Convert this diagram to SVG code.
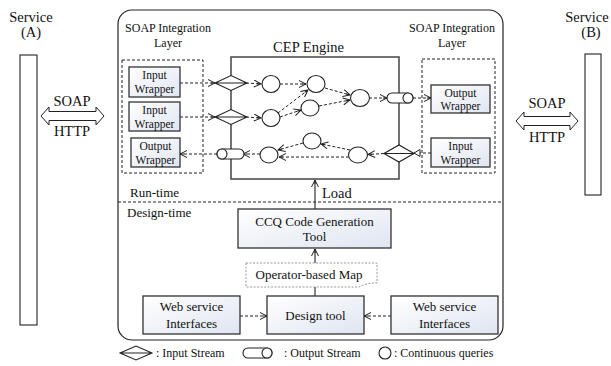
<svg xmlns="http://www.w3.org/2000/svg" width="611" height="366" viewBox="0 0 611 366" font-family="'Liberation Serif','Times New Roman',serif">
<defs>
<linearGradient id="bg" x1="0" y1="0" x2="1" y2="1">
<stop offset="0" stop-color="#ffffff"/>
<stop offset="1" stop-color="#dfe5f1"/>
</linearGradient>
<marker id="ah" markerWidth="10" markerHeight="10" refX="8" refY="4" orient="auto" markerUnits="userSpaceOnUse">
<path d="M1,0.5 L8,4 L1,7.5 M8,4 L4,4" fill="none" stroke="#222" stroke-width="1"/>
</marker>
<marker id="tri" markerWidth="10" markerHeight="10" refX="7" refY="4" orient="auto" markerUnits="userSpaceOnUse">
<path d="M1,0.5 L7,4 L1,7.5 Z" fill="#fff" stroke="#222" stroke-width="1"/>
</marker>
<style>
text{font-family:"Liberation Serif","Times New Roman","DejaVu Serif",serif;fill:#111}
.t11{font-size:11.5px}
.t12{font-size:12px}
.t13{font-size:13px}
.t14{font-size:14.5px}
.box{fill:url(#bg);stroke:#333;stroke-width:1.3}
.dbox{fill:none;stroke:#222;stroke-width:1;stroke-dasharray:3,2}
.cq{fill:#fff;stroke:#222;stroke-width:1.1}
.dash{fill:none;stroke:#222;stroke-width:1;stroke-dasharray:3,2;marker-end:url(#ah)}
.solid{fill:none;stroke:#222;stroke-width:1.1}
</style>
</defs>

<g id="service-a">
<text class="t14" x="31" y="22" text-anchor="middle">Service</text>
<text class="t14" x="31" y="37" text-anchor="middle">(A)</text>
<rect x="20" y="55" width="17" height="270" fill="#fff" stroke="#222" stroke-width="1.1"/>
</g>
<g id="service-b">
<text class="t14" x="587" y="22" text-anchor="middle">Service</text>
<text class="t14" x="591" y="37" text-anchor="middle">(B)</text>
<rect x="585" y="54" width="16" height="141" fill="#fff" stroke="#222" stroke-width="1.1"/>
</g>

<g id="soap-a">
<path d="M41,116 L49,107 L49,111.5 L96,111.5 L96,107 L104,116 L96,125 L96,120.5 L49,120.5 L49,125 Z" fill="#fff" stroke="#222" stroke-width="1"/>
<text class="t14" x="72" y="106" text-anchor="middle">SOAP</text>
<text class="t14" x="72" y="136" text-anchor="middle">HTTP</text>
</g>
<g id="soap-b">
<path d="M516,121 L524,112 L524,116.5 L570,116.5 L570,112 L578,121 L570,130 L570,125.5 L524,125.5 L524,130 Z" fill="#fff" stroke="#222" stroke-width="1"/>
<text class="t14" x="547" y="108" text-anchor="middle">SOAP</text>
<text class="t14" x="547" y="142" text-anchor="middle">HTTP</text>
</g>

<g id="platform">
<rect x="118" y="10" width="385" height="330" rx="14" fill="none" stroke="#222" stroke-width="1.2"/>
<line x1="118" y1="202" x2="503" y2="202" stroke="#222" stroke-width="1" stroke-dasharray="3,2"/>
<text class="t13" x="130" y="197">Run-time</text>
<text class="t13" x="127" y="217">Design-time</text>
</g>

<g id="soap-layer-left">
<text class="t12" x="168" y="32" text-anchor="middle">SOAP Integration</text>
<text class="t12" x="168" y="47" text-anchor="middle">Layer</text>
<rect class="dbox" x="122" y="60" width="81" height="113"/>
</g>
<g id="soap-layer-right">
<text class="t12" x="452" y="32" text-anchor="middle">SOAP Integration</text>
<text class="t12" x="452" y="47" text-anchor="middle">Layer</text>
<rect class="dbox" x="422" y="59" width="73" height="114"/>
</g>

<g id="input-wrapper-1">
<rect class="box" x="129" y="67" width="51" height="30"/>
<text class="t11" x="154.5" y="79" text-anchor="middle">Input</text>
<text class="t11" x="154.5" y="93" text-anchor="middle">Wrapper</text>
</g>
<g id="input-wrapper-2">
<rect class="box" x="129" y="102" width="51" height="29"/>
<text class="t11" x="154.5" y="114" text-anchor="middle">Input</text>
<text class="t11" x="154.5" y="128" text-anchor="middle">Wrapper</text>
</g>
<g id="output-wrapper-left">
<rect class="box" x="131" y="138" width="49" height="29"/>
<text class="t11" x="155.5" y="150" text-anchor="middle">Output</text>
<text class="t11" x="155.5" y="164" text-anchor="middle">Wrapper</text>
</g>
<g id="output-wrapper-right">
<rect class="box" x="431" y="85" width="59" height="28"/>
<text class="t11" x="460.5" y="97" text-anchor="middle">Output</text>
<text class="t11" x="460.5" y="110" text-anchor="middle">Wrapper</text>
</g>
<g id="input-wrapper-right">
<rect class="box" x="431" y="138" width="59" height="29"/>
<text class="t11" x="460.5" y="150" text-anchor="middle">Input</text>
<text class="t11" x="460.5" y="164" text-anchor="middle">Wrapper</text>
</g>

<g id="cep-engine">
<text class="t14" x="308.5" y="52" text-anchor="middle">CEP Engine</text>
<rect x="231" y="57" width="168" height="122" fill="none" stroke="#444" stroke-width="1.5"/>
</g>

<g id="connectors">
<line class="dash" x1="180" y1="83" x2="215" y2="83"/>
<line class="dash" x1="180" y1="117" x2="215" y2="117"/>
<line class="dash" x1="246" y1="83" x2="261" y2="84"/>
<line class="dash" x1="246" y1="117" x2="261" y2="118"/>
<line class="dash" x1="280" y1="84" x2="306" y2="84"/>
<line class="dash" x1="278" y1="113" x2="308" y2="90"/>
<line class="dash" x1="280" y1="117" x2="301" y2="110"/>
<line class="dash" x1="325" y1="88" x2="350" y2="95"/>
<line class="dash" x1="319" y1="106" x2="350" y2="100"/>
<line class="dash" x1="369" y1="98" x2="387" y2="98"/>
<line class="dash" x1="413" y1="98" x2="431" y2="98"/>
<line x1="431" y1="153" x2="414" y2="153" fill="none" stroke="#222" stroke-width="1" stroke-dasharray="3,2" marker-end="url(#tri)"/>
<line class="dash" x1="384" y1="153.5" x2="368" y2="154.5"/>
<line class="dash" x1="350" y1="150" x2="321" y2="144"/>
<line class="dash" x1="349" y1="157" x2="279" y2="157"/>
<line class="dash" x1="303" y1="143" x2="278" y2="150"/>
<line class="dash" x1="260" y1="154" x2="243" y2="154"/>
<line class="dash" x1="217" y1="154" x2="180" y2="154"/>
<line class="solid" x1="315" y1="209" x2="315" y2="180" marker-end="url(#ah)"/>
<line class="solid" x1="315" y1="263" x2="315" y2="249" marker-end="url(#ah)"/>
<line class="solid" x1="315" y1="296" x2="315" y2="287"/>
<line class="dash" x1="240" y1="316" x2="267" y2="316"/>
<line class="dash" x1="391" y1="316" x2="364" y2="316"/>
</g>

<g id="input-stream-1">
<path d="M215,83 L231,75.5 L247,83 L231,90.5 Z M215,83 L247,83" fill="#fff" stroke="#222" stroke-width="1.1"/>
</g>
<g id="input-stream-2">
<path d="M215,117 L231,109.5 L247,117 L231,124.5 Z M215,117 L247,117" fill="#fff" stroke="#222" stroke-width="1.1"/>
</g>
<g id="input-stream-3">
<path d="M384,153.5 L399,145 L414,153.5 L399,162 Z M384,153.5 L414,153.5" fill="#fff" stroke="#222" stroke-width="1.1"/>
</g>
<g id="output-stream-1">
<rect x="217" y="149" width="27" height="10" rx="5" fill="#fff" stroke="#222" stroke-width="1.1"/>
<ellipse cx="222" cy="154" rx="5" ry="5" fill="#fff" stroke="#222" stroke-width="1.1"/>
</g>
<g id="output-stream-2">
<rect x="387" y="93" width="26" height="10" rx="5" fill="#fff" stroke="#222" stroke-width="1.1"/>
<ellipse cx="408" cy="98" rx="5" ry="5" fill="#fff" stroke="#222" stroke-width="1.1"/>
</g>

<g id="cq-1"><ellipse class="cq" cx="271" cy="84" rx="9" ry="8.5"/></g>
<g id="cq-2"><ellipse class="cq" cx="316" cy="84" rx="9" ry="8.5"/></g>
<g id="cq-3"><ellipse class="cq" cx="271" cy="118" rx="9" ry="8.5"/></g>
<g id="cq-4"><ellipse class="cq" cx="310" cy="108" rx="9" ry="8"/></g>
<g id="cq-5"><ellipse class="cq" cx="360" cy="98" rx="9.5" ry="8.5"/></g>
<g id="cq-6"><ellipse class="cq" cx="312" cy="141" rx="9" ry="8"/></g>
<g id="cq-7"><ellipse class="cq" cx="358" cy="155" rx="9.5" ry="8"/></g>
<g id="cq-8"><ellipse class="cq" cx="269" cy="155" rx="9" ry="8"/></g>

<g id="load-label">
<text class="t14" x="322" y="198">Load</text>
</g>

<g id="ccq-tool">
<rect class="box" x="238" y="209" width="153" height="39"/>
<text class="t13" x="314.5" y="226" text-anchor="middle">CCQ Code Generation</text>
<text class="t13" x="314.5" y="241" text-anchor="middle">Tool</text>
</g>

<g id="operator-map">
<path d="M246,263 H377 V283 C370,283 364,284 359,287 H246 Z" fill="#fff" stroke="#999" stroke-width="1" stroke-dasharray="2,1.5"/>
<text class="t13" x="309" y="279" text-anchor="middle">Operator-based Map</text>
</g>

<g id="design-tool">
<rect class="box" x="267" y="296" width="97" height="38"/>
<text class="t13" x="315.5" y="320" text-anchor="middle">Design tool</text>
</g>
<g id="ws-left">
<rect class="box" x="143" y="296" width="97" height="38"/>
<text class="t13" x="191.5" y="311" text-anchor="middle">Web service</text>
<text class="t13" x="191.5" y="328" text-anchor="middle">Interfaces</text>
</g>
<g id="ws-right">
<rect class="box" x="391" y="296" width="107" height="38"/>
<text class="t13" x="444.5" y="311" text-anchor="middle">Web service</text>
<text class="t13" x="444.5" y="328" text-anchor="middle">Interfaces</text>
</g>

<g id="legend">
<path d="M120,353 L136,346 L152,353 L136,360 Z M120,353 L152,353" fill="#fff" stroke="#222" stroke-width="1.1"/>
<text class="t12" x="156" y="357">: Input Stream</text>
<rect x="243" y="348" width="29" height="10" rx="5" fill="#fff" stroke="#222" stroke-width="1.1"/>
<ellipse cx="267" cy="353" rx="5" ry="5" fill="#fff" stroke="#222" stroke-width="1.1"/>
<text class="t12" x="284" y="357">: Output Stream</text>
<ellipse cx="385" cy="353" rx="6" ry="6" fill="#fff" stroke="#222" stroke-width="1.1"/>
<text class="t12" x="394" y="357">: Continuous queries</text>
</g>
</svg>
